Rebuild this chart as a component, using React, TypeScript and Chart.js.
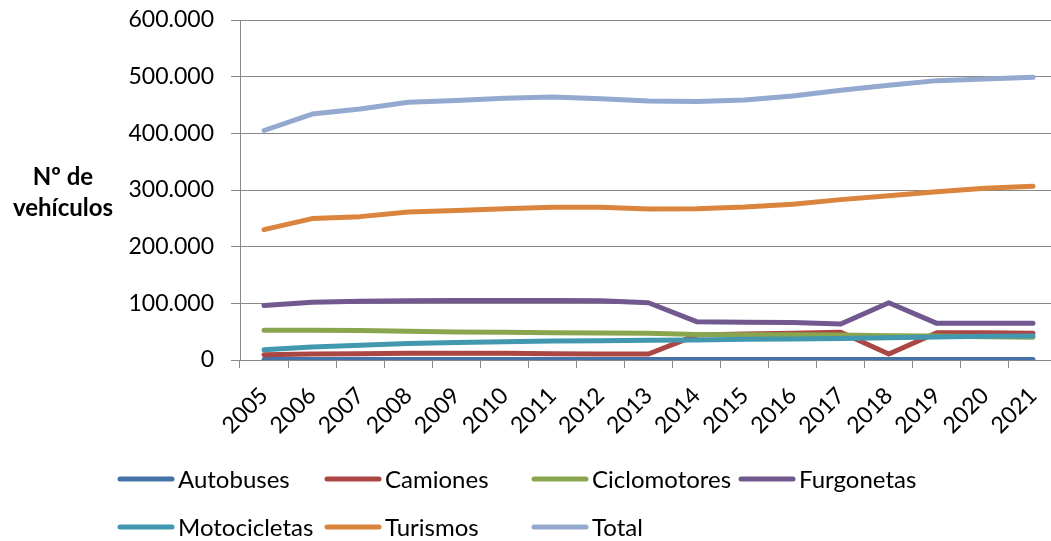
import React, { useEffect, useRef } from "react";
import { Chart, registerables } from "chart.js";

Chart.register(...registerables);

const years = ["2005","2006","2007","2008","2009","2010","2011","2012","2013","2014","2015","2016","2017","2018","2019","2020","2021"];
const autobuses = [900,900,900,900,900,900,900,900,900,900,900,900,900,900,900,900,900];
const camiones = [9400,10600,11000,11800,11800,11800,11000,10600,10600,44000,46000,47000,49000,10500,48000,48000,47000];
const ciclomotores = [52400,52400,52000,50600,49400,48800,48000,47600,47000,45000,44700,44700,44000,43000,42400,41000,40000];
const furgonetas = [96000,102000,103500,104700,105000,105000,105000,104700,101000,67600,66500,66000,63500,101000,64700,64700,64700];
const motocicletas = [18000,23000,26000,29000,31000,32400,33500,34000,34700,35300,36500,37000,38000,39400,40600,41800,42400];
const turismos = [230000,249500,253000,261000,264000,267000,269500,269500,266600,267000,270000,275000,283000,290000,297000,303000,306700];
const total = [405000,434000,443000,455000,458000,462000,464000,461000,457000,456000,459000,466000,476000,485000,493000,496000,499000];
const seriesNames = ["Autobuses","Camiones","Ciclomotores","Furgonetas","Motocicletas","Turismos","Total"];
const seriesColors = ["#4572A7","#AA4643","#89A54E","#71588F","#4198AF","#DB843D","#93A9CF"];
const yTitleLines = ["Nº de", "vehículos"];

const FONT = "Lato, 'Open Sans', sans-serif";

const fmt = (v: number) => String(v).replace(/\B(?=(\d{3})+(?!\d))/g, ".");

const titlePlugin = {
  id: "yTitle",
  afterDraw(chart: any) {
    const ctx = chart.ctx;
    ctx.save();
    ctx.fillStyle = "#000";
    ctx.font = `bold 24px ${FONT}`;
    ctx.textAlign = "center";
    ctx.textBaseline = "middle";
    yTitleLines.forEach((t, i) => ctx.fillText(t, 63, 177 + i * 31));
    ctx.restore();
  },
};

const legendPlugin = {
  id: "gridLegend",
  afterDraw(chart: any) {
    const ctx = chart.ctx;
    ctx.save();
    ctx.font = `24px ${FONT}`;
    ctx.textBaseline = "middle";
    ctx.textAlign = "left";
    chart.data.datasets.forEach((ds: any, i: number) => {
      const col = i % 4;
      const row = Math.floor(i / 4);
      const x = 118 + col * 207;
      const y = 479 + row * 48;
      ctx.strokeStyle = ds.borderColor;
      ctx.lineWidth = 5;
      ctx.lineCap = "round";
      ctx.beginPath();
      ctx.moveTo(x + 2, y);
      ctx.lineTo(x + 54, y);
      ctx.stroke();
      ctx.fillStyle = "#000";
      ctx.fillText(ds.label, x + 60, y + 1);
    });
    ctx.restore();
  },
};

export default function App() {
  const ref = useRef<HTMLCanvasElement>(null);
  useEffect(() => {
    if (!ref.current) return;
    const values = [autobuses, camiones, ciclomotores, furgonetas, motocicletas, turismos, total];
    const chart = new Chart(ref.current, {
      type: "line",
      data: {
        labels: years,
        datasets: values.map((d, i) => ({
          label: seriesNames[i],
          data: d,
          borderColor: seriesColors[i],
          backgroundColor: seriesColors[i],
          borderWidth: 5,
          borderCapStyle: "round",
          borderJoinStyle: "round",
          pointRadius: 0,
          tension: 0,
          fill: false,
          order: values.length - i,
        })),
      },
      options: {
        animation: false,
        responsive: false,
        maintainAspectRatio: false,
        layout: { padding: { left: 20, top: 20, right: 18, bottom: 101 } },
        plugins: { legend: { display: false }, tooltip: { enabled: false } },
        scales: {
          x: {
            offset: true,
            grid: { offset: true, drawOnChartArea: false, drawTicks: true, tickLength: 8, color: "#888" },
            border: { display: true, color: "#888", width: 1 },
            ticks: {
              color: "#000",
              font: { family: FONT, size: 23 },
              maxRotation: 45,
              minRotation: 45,
              autoSkip: false,
              padding: 14,
            },
            afterFit: (s: any) => { s.height = 80; s.paddingLeft = 0; s.paddingRight = 0; },
          },
          y: {
            min: 0,
            max: 600000,
            ticks: {
              stepSize: 100000,
              color: "#000",
              font: { family: FONT, size: 23 },
              padding: 17,
              callback: (v: any) => fmt(Number(v)),
            },
            grid: { color: "#888", lineWidth: 1, drawTicks: true, tickLength: 9 },
            border: { display: true, color: "#888", width: 1 },
            afterFit: (s: any) => { s.width = 220; s.paddingTop = 0; s.paddingBottom = 0; },
          },
        },
      },
      plugins: [titlePlugin, legendPlugin],
    } as any);
    return () => chart.destroy();
  }, []);
  return (
    <div style={{ position: "fixed", left: 0, top: 0, width: 1051, height: 541, overflow: "hidden", background: "#fff" }}>
      <canvas ref={ref} width={1075} height={541} style={{ display: "block" }} />
    </div>
  );
}
